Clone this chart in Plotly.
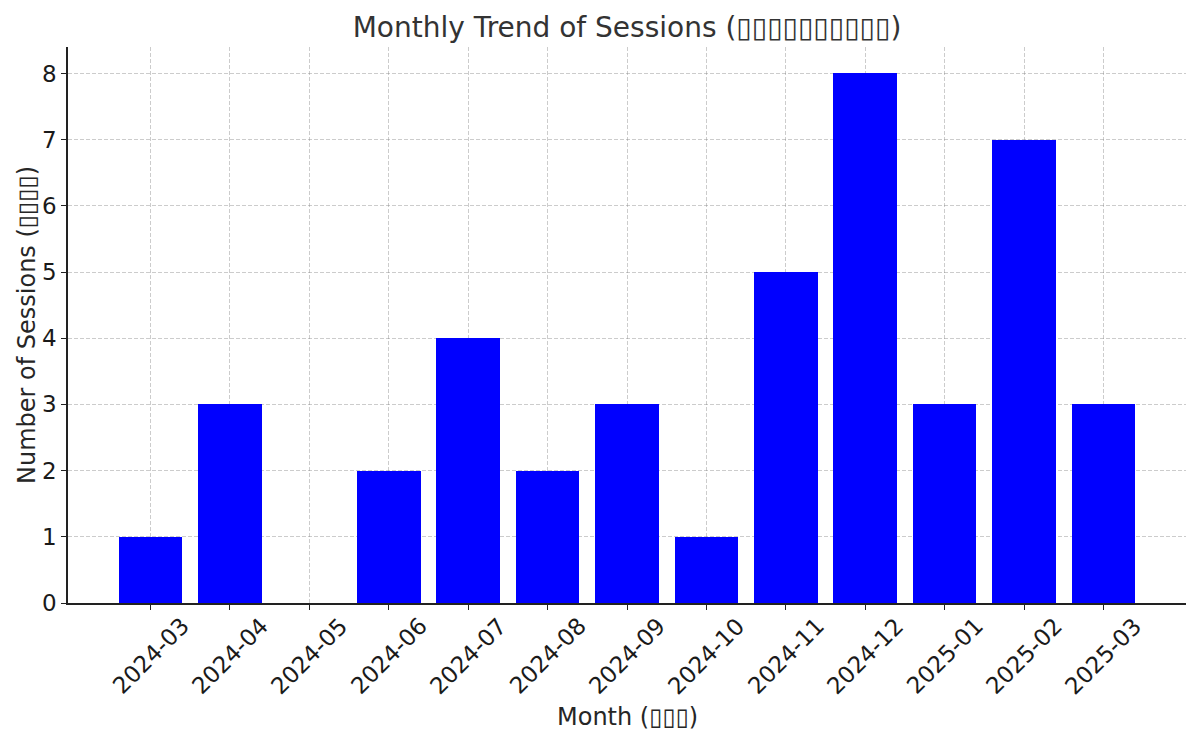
import plotly.graph_objects as go

# monthly session counts
months = ['2024-03', '2024-04', '2024-05', '2024-06', '2024-07', '2024-08', '2024-09',
          '2024-10', '2024-11', '2024-12', '2025-01', '2025-02', '2025-03']
sessions = [1, 3, 0, 2, 4, 2, 3, 1, 5, 8, 3, 7, 3]
y_ticks = [0, 1, 2, 3, 4, 5, 6, 7, 8]

# the CJK parts of the original labels render as missing-glyph boxes
box = '\u25af'
title_text = 'Monthly Trend of Sessions (' + box * 10 + ')'
x_title = 'Month (' + box * 3 + ')'
y_title = 'Number of Sessions (' + box * 4 + ')'

font_family = 'DejaVu Sans'

fig = go.Figure()
fig.add_trace(go.Bar(
    x=list(range(len(months))),
    y=sessions,
    width=0.8,
    marker=dict(color='#0000ff', line=dict(width=0)),
    hovertext=months,
))

# rotated month labels, centred under each bar like the original
annotations = []
for i, m in enumerate(months):
    annotations.append(dict(
        x=i, xref='x', y=0, yref='paper',
        text=m, showarrow=False, textangle=-45,
        xanchor='center', yanchor='middle', yshift=-53,
        font=dict(family=font_family, size=23, color='#1a1a1a'),
    ))

annotations.append(dict(
    x=0.5, xref='paper', y=0, yref='paper', text=x_title, showarrow=False,
    xanchor='center', yanchor='middle', yshift=-114,
    font=dict(family=font_family, size=24, color='#262626'),
))
annotations.append(dict(
    x=0, xref='paper', y=0.5, yref='paper', text=y_title, showarrow=False,
    textangle=-90, xanchor='center', yanchor='middle', xshift=-41,
    font=dict(family=font_family, size=24, color='#262626'),
))

# page body adds an 8px margin, so the figure is 8px smaller than the window
fig.update_layout(
    width=1192, height=736,
    margin=dict(l=60, r=14, t=39, b=141),
    paper_bgcolor='white', plot_bgcolor='white',
    showlegend=False,
    title=dict(text=title_text, x=0.5, xref='paper', xanchor='center',
               y=1 - 19 / 736, yref='container', yanchor='middle',
               font=dict(family=font_family, size=28, color='#333333')),
    font=dict(family=font_family, size=23, color='#1a1a1a'),
    annotations=annotations,
    bargap=0,
)

fig.update_xaxes(
    range=[-1.04, 13.04],
    tickmode='array', tickvals=list(range(len(months))),
    showticklabels=False,
    ticks='outside', ticklen=5, tickwidth=1, tickcolor='#222222',
    showline=True, linecolor='#222222', linewidth=1.5,
    showgrid=True, gridcolor='rgba(128,128,128,0.4)', griddash='4px,2px', gridwidth=1,
    zeroline=False, layer='above traces',
)
fig.update_yaxes(
    range=[0, 8.4],
    tickmode='array', tickvals=y_ticks,
    ticks='outside', ticklen=5, tickwidth=1, tickcolor='#222222',
    tickfont=dict(family=font_family, size=23, color='#1a1a1a'),
    showline=True, linecolor='#222222', linewidth=1.5,
    showgrid=True, gridcolor='rgba(128,128,128,0.4)', griddash='4px,2px', gridwidth=1,
    zeroline=False, layer='above traces',
)

fig.write_html('out.html')
